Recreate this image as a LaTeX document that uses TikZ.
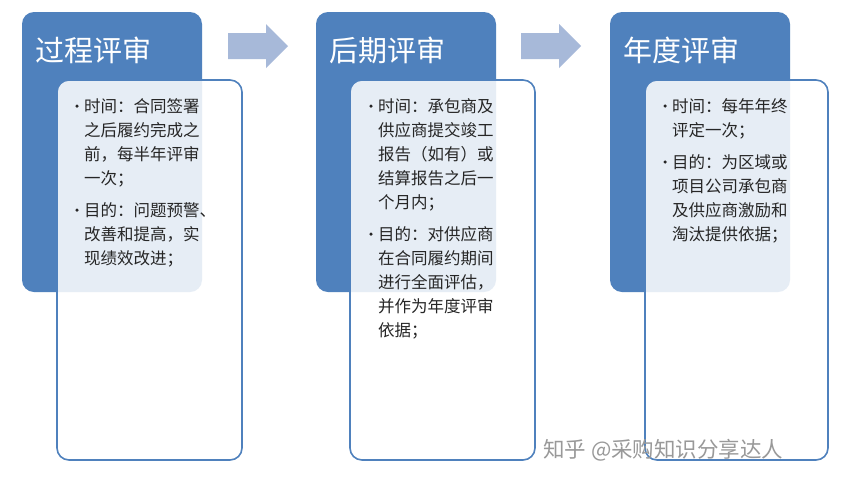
\documentclass[tikz,border=0pt]{standalone}
\usepackage{fontspec}
\newfontfamily\cjk{Noto Sans CJK SC}
\definecolor{bl}{HTML}{4F81BD}
\definecolor{arr}{HTML}{A7B9D9}
\tikzset{
 head/.style={fill=bl,rounded corners=12pt,draw=none},
 card/.style={draw=bl,line width=1.6pt,fill=white,fill opacity=0.86,rounded corners=12pt},
 ttl/.style={font=\cjk\fontsize{29}{32}\selectfont,text=white,anchor=west},
 txt/.style={font=\cjk\fontsize{16.5}{24}\selectfont,text=black!85,anchor=north west,align=left,inner sep=0pt},
 bul/.style={circle,fill=black!85,inner sep=0pt,minimum size=3.5pt},
 blk/.style={fill=arr,draw=none}
}
\begin{document}
\begin{tikzpicture}[x=1pt,y=-1pt]
\useasboundingbox (0,0) rectangle (849,483);
\fill[white] (0,0) rectangle (849,483);
\path[head] (22,12) rectangle (202,292);
\path[head] (316,12) rectangle (496,292);
\path[head] (610,12) rectangle (790,292);
\node[ttl] (t1) at (32,50) {过程评审};
\node[ttl] (t2) at (326,50) {后期评审};
\node[ttl] (t3) at (620,50) {年度评审};
\path[blk] (228,33) -- (266,33) -- (266,24) -- (288,46) -- (266,68) -- (266,59) -- (228,59) -- cycle;
\path[blk] (521,33) -- (559,33) -- (559,24) -- (581,46) -- (559,68) -- (559,59) -- (521,59) -- cycle;
\path[card] (57,80) rectangle (242,460);
\path[card] (350,80) rectangle (535,460);
\path[card] (645,80) rectangle (828,460);
\node[bul] (b11) at (77,106) {};
\node[txt] (x11) at (84,98) {时间：合同签署\\之后履约完成之\\前，每半年评审\\一次；};
\node[bul] (b12) at (77,210) {};
\node[txt] (x12) at (84,202) {目的：问题预警、\\改善和提高，实\\现绩效改进；};
\node[bul] (b21) at (371,106) {};
\node[txt] (x21) at (378,98) {时间：承包商及\\供应商提交竣工\\报告（如有）或\\结算报告之后一\\个月内；};
\node[bul] (b22) at (371,234) {};
\node[txt] (x22) at (378,226) {目的：对供应商\\在合同履约期间\\进行全面评估，\\并作为年度评审\\依据；};
\node[bul] (b31) at (665,106) {};
\node[txt] (x31) at (672,98) {时间：每年年终\\评定一次；};
\node[bul] (b32) at (665,162) {};
\node[txt] (x32) at (672,154) {目的：为区域或\\项目公司承包商\\及供应商激励和\\淘汰提供依据；};
\node[font=\cjk\fontsize{21.5}{24}\selectfont,text=black!40,anchor=west,inner sep=0pt] (wm) at (543,450) {知乎 @采购知识分享达人};
\end{tikzpicture}
\end{document}
